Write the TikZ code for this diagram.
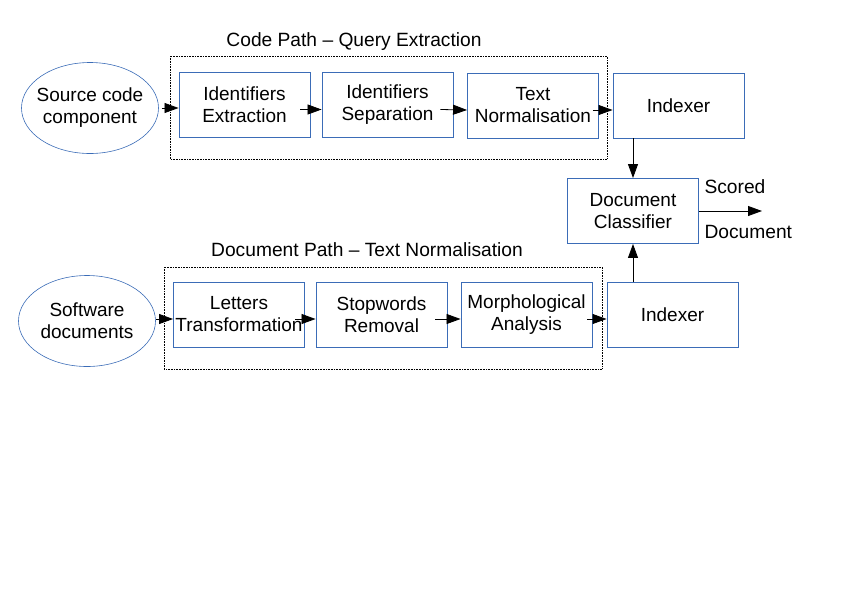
\documentclass[tikz,border=0pt]{standalone}
\usepackage{fontspec}
\setmainfont{Liberation Sans}
\usetikzlibrary{arrows.meta,shapes.geometric}

\definecolor{boxblue}{RGB}{59,108,183}

\begin{document}
\begin{tikzpicture}[x=1pt,y=-1pt,
    % processing steps (blue boxes)
    stepbox/.style={draw=boxblue, line width=0.9pt, minimum width=131pt,
        minimum height=65pt, inner sep=0pt, align=center,
        font=\fontsize{19}{22}\selectfont},
    % inputs (blue ellipses)
    source/.style={ellipse, draw=boxblue, line width=0.6pt, minimum width=137pt,
        minimum height=91pt, inner sep=-6pt, align=center,
        font=\fontsize{19}{22}\selectfont},
    % dotted frames round the two paths
    frame/.style={draw, densely dotted, line width=0.6pt},
    flow/.style={-{Triangle[length=14pt,width=10pt]}, line width=0.8pt},
    caption/.style={font=\fontsize{19.2}{22}\selectfont}
]
    \useasboundingbox (0,0) rectangle (841,595);

    % Frames and their titles
    \draw[frame] (170,56) rectangle (607,159);
    \draw[frame] (164,267) rectangle (602,369);
    \node[caption] (codetitle) at (354,42) {Code Path \textendash{} Query Extraction};
    \node[caption] (doctitle) at (367,250) {Document Path \textendash{} Text Normalisation};

    % Code path
    \node[source] (srccode) at (90,108) {Source code\\component};
    \node[stepbox] (idext) at (244.5,105) {Identifiers\\Extraction};
    \node[stepbox] (idsep) at (387.5,105) {Identifiers\\Separation};
    \node[stepbox] (txtnorm) at (533,105.5) {Text\\Normalisation};
    \node[stepbox] (idxcode) at (678.5,105.5) {Indexer};

    % Document path
    \node[source] (swdocs) at (87,321) {Software\\documents};
    \node[stepbox] (letters) at (239,314.5) {Letters\\Transformation};
    \node[stepbox] (stopw) at (381.5,314.5) {Stopwords\\Removal};
    \node[stepbox] (morph) at (526.5,314.5) {Morphological\\Analysis};
    \node[stepbox] (idxdoc) at (672.5,314.5) {Indexer};

    % Classifier and its output
    \node[stepbox] (classifier) at (633,211) {Document\\Classifier};
    \coordinate (scoredout) at (762,211);
    \node[caption, anchor=west] (scored) at (701,187) {Scored};
    \node[caption, anchor=west] (scoreddoc) at (701,232) {Document};

    % Connectors (they start a little inside the boxes, below the middle)
    \draw[flow] ([xshift=3pt]srccode.east) -- (srccode.east -| idext.west);
    \draw[flow] ([shift={(-10,4.5)}]idext.east) -- ([yshift=-4.5pt]idsep.west);
    \draw[flow] ([shift={(-13,4.5)}]idsep.east) -- ([yshift=-4.5pt]txtnorm.west);
    \draw[flow] ([shift={(-6,4.5)}]txtnorm.east) -- ([yshift=-4.5pt]idxcode.west);
    \draw[flow] (swdocs.east |- letters.east) ++(0,4.5) -- ([yshift=-4.5pt]letters.west);
    \draw[flow] ([shift={(-10,4.5)}]letters.east) -- ([yshift=-4.5pt]stopw.west);
    \draw[flow] ([shift={(-12,4.5)}]stopw.east) -- ([yshift=-4.5pt]morph.west);
    \draw[flow] ([shift={(-5,4.5)}]morph.east) -- ([yshift=-4.5pt]idxdoc.west);
    \draw[flow] (classifier.north |- idxcode.south) -- (classifier.north);
    \draw[flow] (classifier.south |- idxdoc.north) -- (classifier.south);
    \draw[flow] (classifier) -- (scoredout);
\end{tikzpicture}
\end{document}
